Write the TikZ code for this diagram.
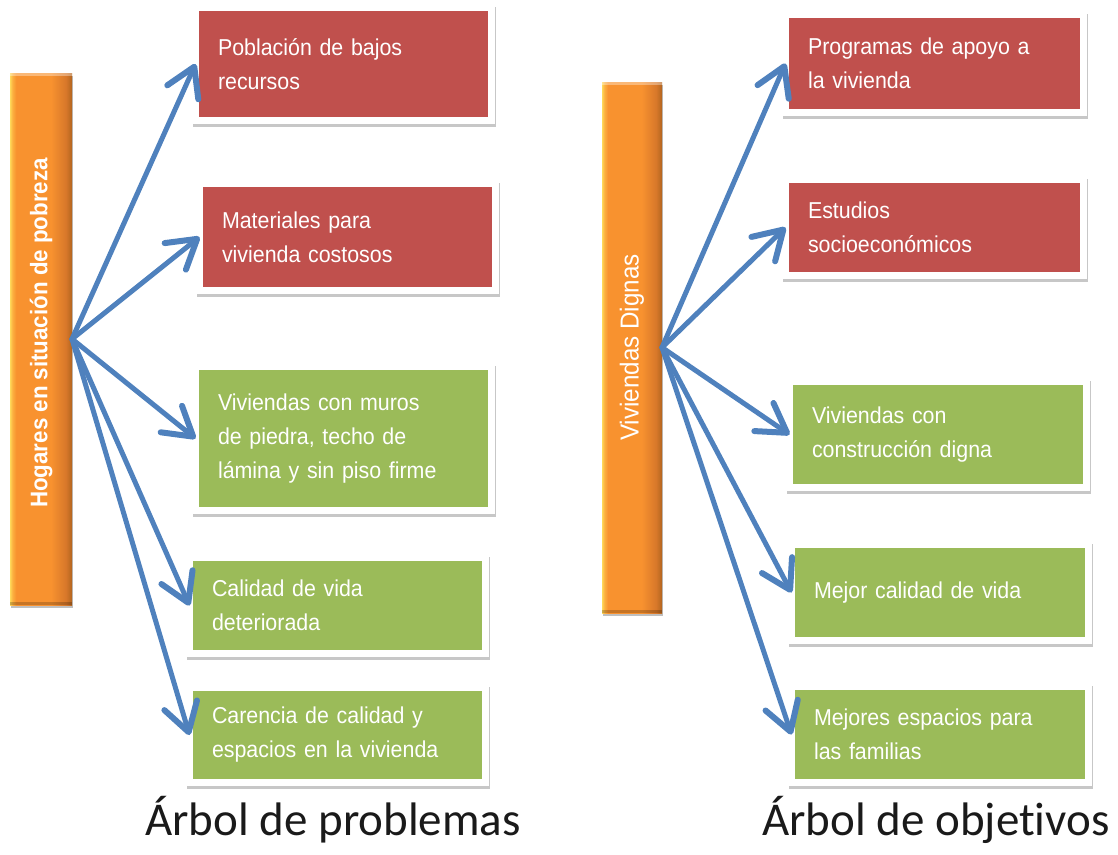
\documentclass[tikz,border=0pt]{standalone}
\usepackage{fontspec}
\setmainfont{Liberation Sans}
\newfontfamily\boxfont{Liberation Sans}[FakeStretch=0.93]
\newfontfamily\capfont{Carlito}[Ligatures=NoCommon]
\usetikzlibrary{arrows.meta,shadows}

\definecolor{boxred}{HTML}{C0504D}
\definecolor{boxgreen}{HTML}{9BBB59}
\definecolor{arrblue}{HTML}{4F81BD}
\definecolor{barY}{HTML}{FFD85A}
\definecolor{barYO}{HTML}{FBB040}
\definecolor{barO}{HTML}{F8922F}
\definecolor{barD}{HTML}{D8782A}
\definecolor{barDD}{HTML}{B2651F}
\definecolor{captext}{HTML}{1A1A1A}

\pgfdeclarehorizontalshading{barshade}{100bp}{color(0bp)=(barY); color(25bp)=(barY); color(27bp)=(barYO); color(30bp)=(barO); color(58bp)=(barO); color(70bp)=(barD); color(75bp)=(barDD); color(100bp)=(barDD)}

\tikzset{
  box/.style={rectangle, draw=white, line width=7pt, outer sep=0pt, text=white,
    align=left, inner xsep=22.5pt, inner ysep=0pt,
    font={\boxfont\fontsize{23}{34}\selectfont},
    drop shadow={shadow xshift=1pt, shadow yshift=-3pt, opacity=0.22, fill=black, draw=black, line width=7pt}},
  redbox/.style={box, fill=boxred},
  greenbox/.style={box, fill=boxgreen},
  bar/.style={rectangle, shading=barshade, inner sep=0pt, outer sep=0pt, text=white,
    drop shadow={shadow xshift=1pt, shadow yshift=-3pt, opacity=0.25, fill=black},
    path picture={
      \fill[white, opacity=0.35] (path picture bounding box.north west) rectangle ([yshift=-3pt]path picture bounding box.north east);
      \fill[black, opacity=0.2] ([yshift=3pt]path picture bounding box.south west) rectangle (path picture bounding box.south east);}},
  arr/.style={draw=arrblue, line width=5pt, line cap=round,
    -{Straight Barb[length=28pt, width=34pt, line width=6pt, round]}},
  caption/.style={inner sep=0pt, text=captext, font={\capfont\fontsize{47}{56}\selectfont}}
}

\begin{document}
\begin{tikzpicture}[x=1pt, y=-1pt]
\useasboundingbox (0,0) rectangle (1118,854);

% ---------- Arbol de problemas ----------
\node[bar, minimum width=62pt, minimum height=532pt] (L) at (41,339)
  {\rotatebox{90}{\boxfont\fontsize{24}{28}\selectfont\bfseries\hspace*{12pt}Hogares en situación de pobreza}};

\node[redbox, minimum width=296pt, minimum height=113pt, text width=251pt] (P1) at (343.5,64)
  {Población de bajos\\recursos};
\node[redbox, minimum width=296pt, minimum height=107pt, text width=251pt] (P2) at (347.5,237)
  {Materiales para\\vivienda costosos};
\node[greenbox, minimum width=296pt, minimum height=144pt, text width=251pt] (P3) at (343.5,438.5)
  {Viviendas con muros\\de piedra, techo de\\lámina y sin piso firme};
\node[greenbox, minimum width=296pt, minimum height=96pt, text width=251pt] (P4) at (337.5,605.5)
  {Calidad de vida\\deteriorada};
\node[greenbox, minimum width=296pt, minimum height=95pt, text width=251pt] (P5) at (337.5,735)
  {Carencia de calidad y\\espacios en la vivienda};

\foreach \t in {P1,P2,P3,P4,P5} \draw[arr] (L.east) -- (\t.west);

\node[caption, anchor=base west] (C1) at (145,835) {Árbol de problemas};

% ---------- Arbol de objetivos ----------
\node[bar, minimum width=60pt, minimum height=531pt] (R) at (632,347.5)
  {\rotatebox{90}{\boxfont\fontsize{26}{30}\selectfont Viviendas Dignas}};

\node[redbox, minimum width=298pt, minimum height=98pt, text width=253pt] (O1) at (934.5,63.5)
  {Programas de apoyo a\\la vivienda};
\node[redbox, minimum width=298pt, minimum height=96pt, text width=253pt] (O2) at (934.5,227.5)
  {Estudios\\socioeconómicos};
\node[greenbox, minimum width=297pt, minimum height=106pt, text width=252pt] (O3) at (938,434.5)
  {Viviendas con\\construcción digna};
\node[greenbox, minimum width=297pt, minimum height=96pt, text width=252pt] (O4) at (940,592.5)
  {Mejor calidad de vida};
\node[greenbox, minimum width=297pt, minimum height=96pt, text width=252pt] (O5) at (940,734.5)
  {Mejores espacios para\\las familias};

\foreach \t in {O1,O2,O3,O4,O5} \draw[arr] (R.east) -- (\t.west);

\node[caption, anchor=base west] (C2) at (762,835) {Árbol de objetivos};
\end{tikzpicture}
\end{document}
